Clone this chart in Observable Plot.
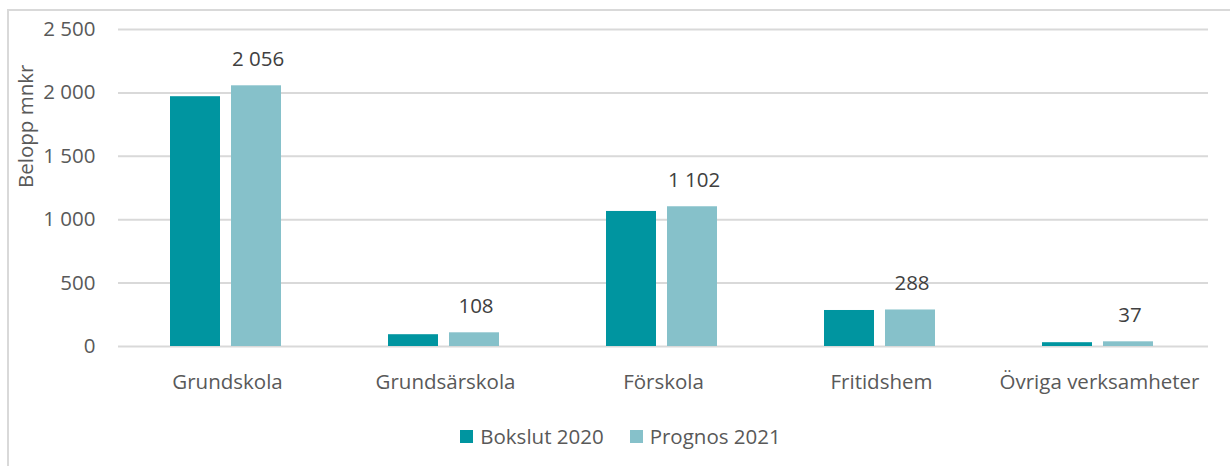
<!DOCTYPE html>
<html>
<head>
<meta charset="utf-8">
<script src="https://cdn.jsdelivr.net/npm/d3@7"></script>
<script src="https://cdn.jsdelivr.net/npm/@observablehq/plot@0.6"></script>
<style>
  html, body { margin: 0; padding: 0; background: #fff; width: 1230px; height: 466px; overflow: hidden; }
  #frame { position: absolute; left: 7px; top: 9px; width: 1221px; height: 460px;
           border-left: 2px solid #d9d9d9; border-top: 2px solid #d9d9d9; font-family: "Open Sans", sans-serif; }
  #legend { display: flex; justify-content: center; gap: 26px; margin-top: 14px; font-size: 20.5px; color: #595959; line-height: 22px; padding-left: 2px; }
  #legend span.item { display: flex; align-items: center; gap: 7px; }
  #legend span.sw { width: 13px; height: 13px; display: inline-block; }
</style>
</head>
<body>
<div id="frame"><div id="chart"></div><div id="legend"></div></div>
<script>
const categories = ["Grundskola", "Grundsärskola", "Förskola", "Fritidshem", "Övriga verksamheter"];
const seriesNames = ["Bokslut 2020", "Prognos 2021"];
const bokslut2020 = [1970, 93, 1065, 284, 30];
const prognos2021 = [2056, 108, 1102, 288, 37];
const yTicks = [0, 500, 1000, 1500, 2000, 2500];
const yLabel = "Belopp mnkr";
const colors = ["#0095a0", "#86c1ca"];

const data = [];
categories.forEach((c, i) => {
  data.push({category: c, series: seriesNames[0], value: bokslut2020[i]});
  data.push({category: c, series: seriesNames[1], value: prognos2021[i]});
});
const fmt = d => d3.format(",")(d).replace(/,/g, " ");
const FS = 20.5;

const chart = Plot.plot({
  width: 1221,
  height: 400,
  marginLeft: 107,
  marginRight: 20,
  marginTop: 18,
  marginBottom: 65,
  style: {fontFamily: "'Open Sans', sans-serif", fontSize: FS + "px", color: "#595959", background: "#fff"},
  fx: {domain: categories, padding: 0, label: null},
  x: {domain: seriesNames, paddingInner: 0.194, paddingOuter: 0.863, axis: null},
  y: {domain: [0, 2500], ticks: yTicks, label: null},
  color: {domain: seriesNames, range: colors},
  marks: [
    Plot.gridY(yTicks, {stroke: "#d9d9d9", strokeOpacity: 1, strokeWidth: 2}),
    Plot.axisY(yTicks, {tickSize: 0, tickPadding: 23, tickFormat: fmt, label: null, fill: "#595959", fontSize: FS}),
    Plot.axisFx({anchor: "bottom", tickSize: 0, tickPadding: 28, label: null, fill: "#595959", fontSize: FS}),
    Plot.barY(data, {fx: "category", x: "series", y: "value", fill: "series", insetLeft: -2, insetRight: 1}),
    Plot.text(data.filter(d => d.series === seriesNames[1]), {fx: "category", x: "series", y: "value", text: d => fmt(d.value), lineAnchor: "bottom", dy: -20, fill: "#404040", fontSize: FS}),
    Plot.text([yLabel], {frameAnchor: "left", dx: -92, rotate: -90, fill: "#595959", fontSize: FS, facetAnchor: "left"})
  ]
});
document.getElementById("chart").appendChild(chart);

const legend = document.getElementById("legend");
seriesNames.forEach((s, i) => {
  const item = document.createElement("span");
  item.className = "item";
  const sw = document.createElement("span");
  sw.className = "sw";
  sw.style.background = colors[i];
  item.appendChild(sw);
  item.appendChild(document.createTextNode(s));
  legend.appendChild(item);
});
</script>
</body>
</html>
